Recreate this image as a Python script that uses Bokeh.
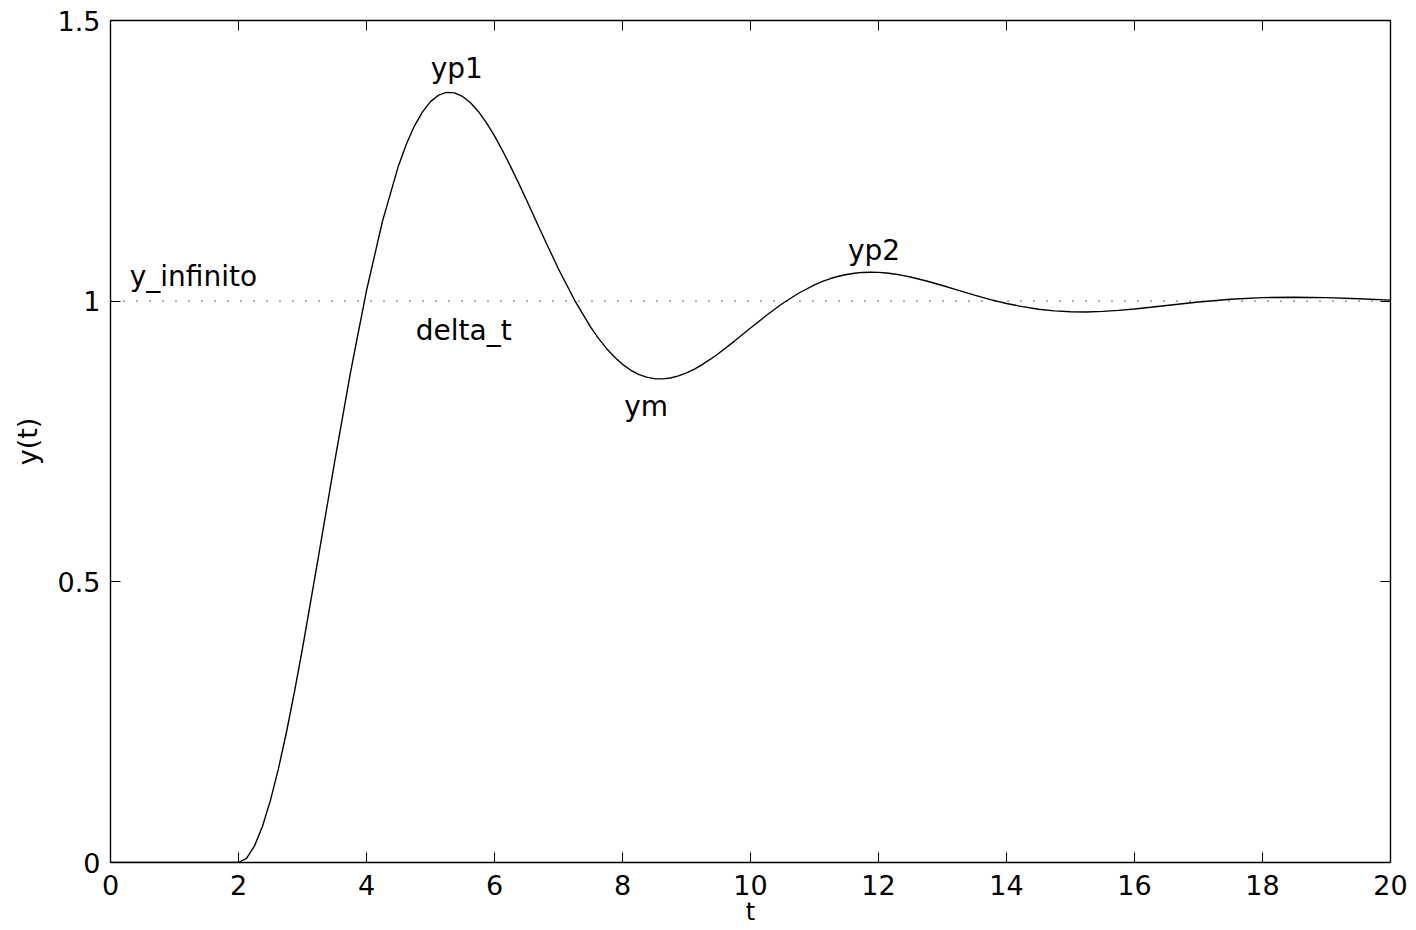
from bokeh.plotting import figure
from bokeh.models import Range1d, FixedTicker, LinearAxis, CustomJSTickFormatter, Label
from bokeh.embed import file_html
from bokeh.resources import INLINE

# Step response (time, output)
t_values = [0.0, 2.0, 2.125, 2.25, 2.375, 2.5, 2.625, 2.75, 2.875, 3.0, 3.25, 3.5,
            3.75, 4.0, 4.25, 4.5, 4.625, 4.75, 4.875, 5.0, 5.125, 5.25, 5.375,
            5.5, 5.625, 5.75, 5.875, 6.0, 6.125, 6.25, 6.375, 6.5, 6.75, 7.0,
            7.25, 7.5, 7.625, 7.75, 7.875, 8.0, 8.125, 8.25, 8.375, 8.5, 8.625,
            8.75, 8.875, 9.0, 9.125, 9.25, 9.375, 9.5, 9.75, 10.0, 10.25, 10.5,
            10.75, 11.0, 11.125, 11.25, 11.375, 11.5, 11.625, 11.75, 11.875,
            12.0, 12.125, 12.25, 12.375, 12.5, 12.75, 13.0, 13.25, 13.5, 13.75,
            14.0, 14.25, 14.5, 14.75, 15.0, 15.25, 15.5, 15.75, 16.0, 16.25,
            16.5, 17.0, 17.5, 18.0, 18.5, 19.0, 19.5, 20.0]
y_values = [0.0, 0.0, 0.0075, 0.0296, 0.0645, 0.1111, 0.1676, 0.2325, 0.3044,
            0.3813, 0.5453, 0.7125, 0.8730, 1.0187, 1.1426, 1.2414, 1.2804,
            1.3124, 1.3373, 1.3555, 1.3669, 1.3720, 1.3711, 1.3647, 1.3534,
            1.3375, 1.3176, 1.2945, 1.2684, 1.2402, 1.2107, 1.1801, 1.1178,
            1.0573, 1.0020, 0.9542, 0.9338, 0.9158, 0.9004, 0.8875, 0.8773,
            0.8697, 0.8646, 0.8619, 0.8615, 0.8632, 0.8668, 0.8721, 0.8790,
            0.8873, 0.8966, 0.9068, 0.9289, 0.9521, 0.9748, 0.9959, 1.0141,
            1.0291, 1.0352, 1.0403, 1.0444, 1.0476, 1.0498, 1.0512, 1.0516,
            1.0513, 1.0502, 1.0484, 1.0460, 1.0431, 1.0360, 1.0279, 1.0193,
            1.0108, 1.0028, 0.9958, 0.9902, 0.9856, 0.9827, 0.9811, 0.9808,
            0.9818, 0.9836, 0.9861, 0.9891, 0.9922, 0.9985, 1.0034, 1.0063,
            1.0071, 1.0063, 1.0043, 1.0019]

y_inf = 1.0
x_ticks = [0, 2, 4, 6, 8, 10, 12, 14, 16, 18, 20]
y_ticks = [0, 0.5, 1, 1.5]

ann_text = ["yp1", "delta_t", "ym", "yp2", "y_infinito"]
ann_x = [5.41, 5.52, 8.37, 11.93, 0.30]
ann_y = [1.414, 0.948, 0.813, 1.090, 1.044]
ann_align = ["center", "center", "center", "center", "left"]

FONT = "DejaVu Sans"

p = figure(width=1416, height=930, output_backend="svg", toolbar_location=None,
           x_range=Range1d(0, 20), y_range=Range1d(0, 1.5),
           min_border_left=110, min_border_right=26, min_border_top=20,
           min_border_bottom=68, background_fill_color="white",
           border_fill_color="white")
p.grid.visible = False
p.outline_line_color = None

# dotted reference line
p.line([t_values[0], t_values[-1]], [y_inf, y_inf], line_color="black",
       line_width=1.3, line_dash="1 12")
# response curve
p.line(t_values, y_values, line_color="black", line_width=1.4)

def style_axis(ax, ticks, label_size="27px"):
    ax.ticker = FixedTicker(ticks=ticks)
    ax.major_tick_in = 10
    ax.major_tick_out = 0
    ax.minor_tick_line_color = None
    ax.axis_line_color = "black"
    ax.axis_line_width = 1.4
    ax.major_tick_line_color = "black"
    ax.major_tick_line_width = 1
    ax.major_label_text_font = FONT
    ax.major_label_text_font_size = label_size
    ax.major_label_text_color = "black"
    ax.axis_label_text_font = FONT
    ax.axis_label_text_font_size = "27px"
    ax.axis_label_text_font_style = "normal"
    ax.axis_label_text_color = "black"

xa = p.xaxis[0]
style_axis(xa, x_ticks)
xa.axis_label = "t"
xa.axis_label_text_font_size = "24px"
xa.major_label_standoff = 12
xa.axis_label_standoff = 0
xa.formatter = CustomJSTickFormatter(code="return tick.toString()")

ya = p.yaxis[0]
style_axis(ya, y_ticks)
ya.axis_label = "y(t)"
ya.major_label_standoff = 10
ya.axis_label_standoff = 12
ya.formatter = CustomJSTickFormatter(code="return tick.toString()")

top = LinearAxis()
style_axis(top, x_ticks, "1px")
top.formatter = CustomJSTickFormatter(code="return ''")
top.major_label_standoff = 0
p.add_layout(top, "above")

right = LinearAxis()
style_axis(right, y_ticks, "1px")
right.formatter = CustomJSTickFormatter(code="return ''")
right.major_label_standoff = 0
p.add_layout(right, "right")

for txt, x, y, al in zip(ann_text, ann_x, ann_y, ann_align):
    p.add_layout(Label(x=x, y=y, text=txt, text_align=al, text_baseline="alphabetic",
                       text_font=FONT, text_font_size="28px", text_color="black"))

open("out.html", "w").write(file_html(p, INLINE))
